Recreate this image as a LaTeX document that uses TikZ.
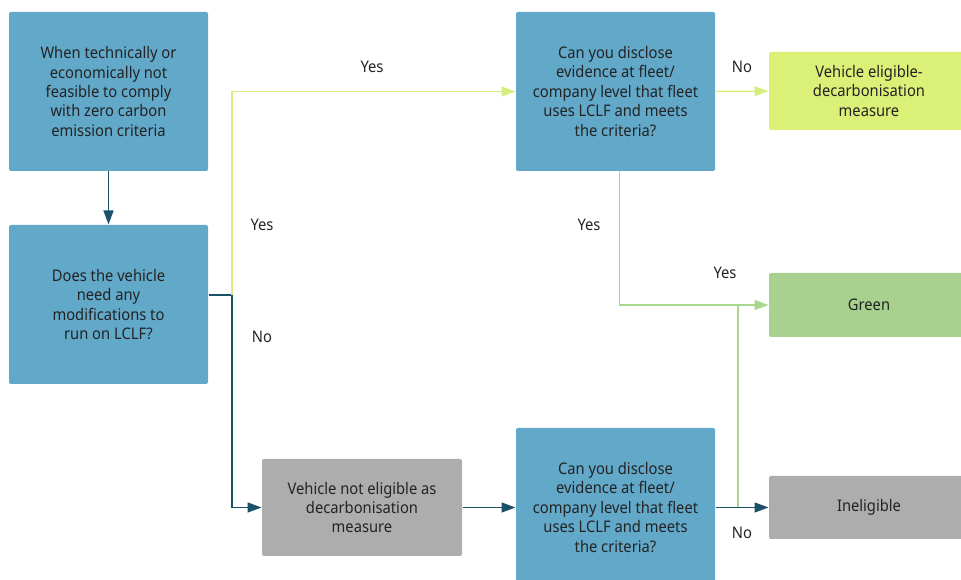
\documentclass[tikz,border=0pt]{standalone}
\usepackage{fontspec}
\setmainfont{Noto Sans}[FakeStretch=0.92]
\usetikzlibrary{arrows.meta}

\definecolor{qblue}{RGB}{98,168,201}
\definecolor{linkdark}{RGB}{26,80,104}
\definecolor{limefill}{RGB}{219,240,118}
\definecolor{limeline}{RGB}{214,238,128}
\definecolor{greenfill}{RGB}{168,208,142}
\definecolor{greenline}{RGB}{168,216,142}
\definecolor{greyfill}{RGB}{173,173,173}
\definecolor{textgrey}{RGB}{35,35,35}

\tikzset{every picture/.style={line width=0.75pt}}
\tikzset{
  box/.style={rectangle,rounded corners=1.5pt,inner sep=0pt,align=center,
    text=textgrey,font=\fontsize{12}{14.6}\selectfont,minimum width=149.25pt},
  question/.style={box,fill=qblue,minimum height=119.25pt},
  outcome/.style={box,minimum width=150pt},
  answer/.style={anchor=center,inner sep=0pt,text=textgrey,font=\fontsize{12}{14.6}\selectfont},
  darkarrow/.style={draw=linkdark,line width=1.1pt,-{Triangle[length=10.5pt,width=7.5pt]}},
  darkline/.style={draw=linkdark,line width=1.1pt},
  limearrow/.style={draw=limeline,line width=0.9pt,-{Triangle[length=10.5pt,width=7.5pt]}},
  greenarrow/.style={draw=greenline,line width=0.9pt,-{Triangle[length=10.5pt,width=7.5pt]}},
  greenlink/.style={draw=greenline,line width=0.9pt}
}

\begin{document}
\begin{tikzpicture}[x=0.75pt,y=0.75pt,yscale=-1,xscale=1]
		\useasboundingbox (0,0) rectangle (961,580);
		\clip (0,0) rectangle (961,580);
		
		%Question boxes
		\node [question] (infeasible) at (108.5,91.5) {When technically or\\economically not\\feasible to comply\\with zero carbon\\emission criteria};
		\node [question] (modify) at (108.5,304.5) {Does the vehicle\\need any\\modifications to\\run on LCLF?};
		\node [question] (discloseTop) at (615.5,91.5) {Can you disclose\\evidence at fleet/\\company level that fleet\\uses LCLF and meets\\the criteria?};
		\node [question] (discloseLow) at (615.5,507.5) {Can you disclose\\evidence at fleet/\\company level that fleet\\uses LCLF and meets\\the criteria?};
		
		%Outcome boxes
		\node [outcome,fill=greyfill,minimum height=72.75pt] (notEligible) at (362,507.5) {Vehicle not eligible as\\decarbonisation\\measure};
		\node [outcome,fill=limefill,minimum height=58.5pt] (eligible) at (869,91) {Vehicle eligible-\\decarbonisation\\measure};
		\node [outcome,fill=greenfill,minimum height=48pt] (green) at (869,305) {Green};
		\node [outcome,fill=greyfill,minimum height=47.25pt] (ineligible) at (869,507.5) {Ineligible};
		
		%Junctions
		\coordinate (split) at (232,295);
		\coordinate (merge) at (738,507.5);
		
		%Connectors
		\draw [darkarrow] (infeasible) -- (modify);
		\draw [darkline] (modify.east |- split) -- (split);
		\draw [limearrow] (split) |- (discloseTop);
		\draw [darkarrow] (split) |- (notEligible);
		\draw [darkarrow] (notEligible.east) -- (notEligible.east -| discloseLow.west);
		\draw [limearrow] (discloseTop) -- (eligible);
		\draw [greenarrow] ([xshift=3pt]discloseTop.south) |- (green);
		\draw [greenlink] (merge) -- (merge |- green);
		\draw [darkarrow] (discloseLow.east |- merge) -- (ineligible.west |- merge);
		
		% Text Node
		\node [answer] (yesTop) at (372,67) {Yes};
		% Text Node
		\node [answer] (yesLeft) at (262,225) {Yes};
		% Text Node
		\node [answer] (noLeft) at (262,337) {No};
		% Text Node
		\node [answer] (noTop) at (742,67) {No};
		% Text Node
		\node [answer] (yesMid) at (589,225) {Yes};
		% Text Node
		\node [answer] (yesGreen) at (725,273) {Yes};
		% Text Node
		\node [answer] (noLow) at (742,533) {No};
\end{tikzpicture}
\end{document}
